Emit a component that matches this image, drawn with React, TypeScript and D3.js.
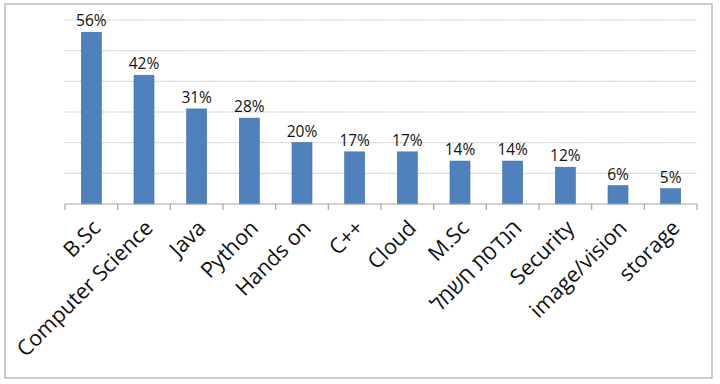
import React from "react";
import * as d3 from "d3";

const categories = ["B.Sc", "Computer Science", "Java", "Python", "Hands on", "C++", "Cloud", "M.Sc", "הנדסת חשמל", "Security", "image/vision", "storage"];
const values = [56, 42, 31, 28, 20, 17, 17, 14, 14, 12, 6, 5];
const gridTicks = [0, 10, 20, 30, 40, 50, 60];

const W = 720, H = 384;
const left = 65, right = 697, top = 20, bottom = 204;

export default function App() {
  const x = d3.scaleBand<string>().domain(categories).range([left, right]).paddingInner(0).paddingOuter(0);
  const y = d3.scaleLinear().domain([0, 60]).range([bottom, top]);
  const bw = 20;
  const font = "'Open Sans', sans-serif";
  const ticksX = categories.map((c) => x(c)!).concat([right]);
  return (
    <svg width={W} height={H} style={{ position: "absolute", left: 0, top: 0 }} xmlns="http://www.w3.org/2000/svg">
      <rect x={0} y={0} width={W} height={H} fill="#fff" />
      <rect x={5} y={4} width={707} height={374} fill="#fff" stroke="#bdbdbd" strokeWidth={1.5} />
      {gridTicks.filter((t) => t > 0).map((t) => (
        <line key={t} x1={left} x2={right} y1={y(t)} y2={y(t)} stroke="#bfbfbf" strokeWidth={1} strokeDasharray="1.5,1" />
      ))}
      {categories.map((c, i) => {
        const cx = x(c)! + x.bandwidth() / 2;
        return (
          <g key={c}>
            <rect x={cx - bw / 2} y={y(values[i])} width={bw} height={bottom - y(values[i])} fill="#4f81bd" stroke="#3e6fa8" strokeWidth={0.6} />
            <text x={cx} y={y(values[i]) - 6} textAnchor="middle" fontFamily={font} fontSize={15.5} fill="#111">{values[i]}%</text>
            <text transform={`translate(${cx + 5},${bottom + 20}) rotate(-45)`} textAnchor="end" fontFamily={font} fontSize={21.5} fill="#111" dy="0.35em">{c}</text>
          </g>
        );
      })}
      <line x1={left} x2={right} y1={bottom} y2={bottom} stroke="#a6a6a6" strokeWidth={1.2} />
      {ticksX.map((tx, i) => (
        <line key={i} x1={tx} x2={tx} y1={bottom} y2={bottom + 6} stroke="#a6a6a6" strokeWidth={1.2} />
      ))}
    </svg>
  );
}
